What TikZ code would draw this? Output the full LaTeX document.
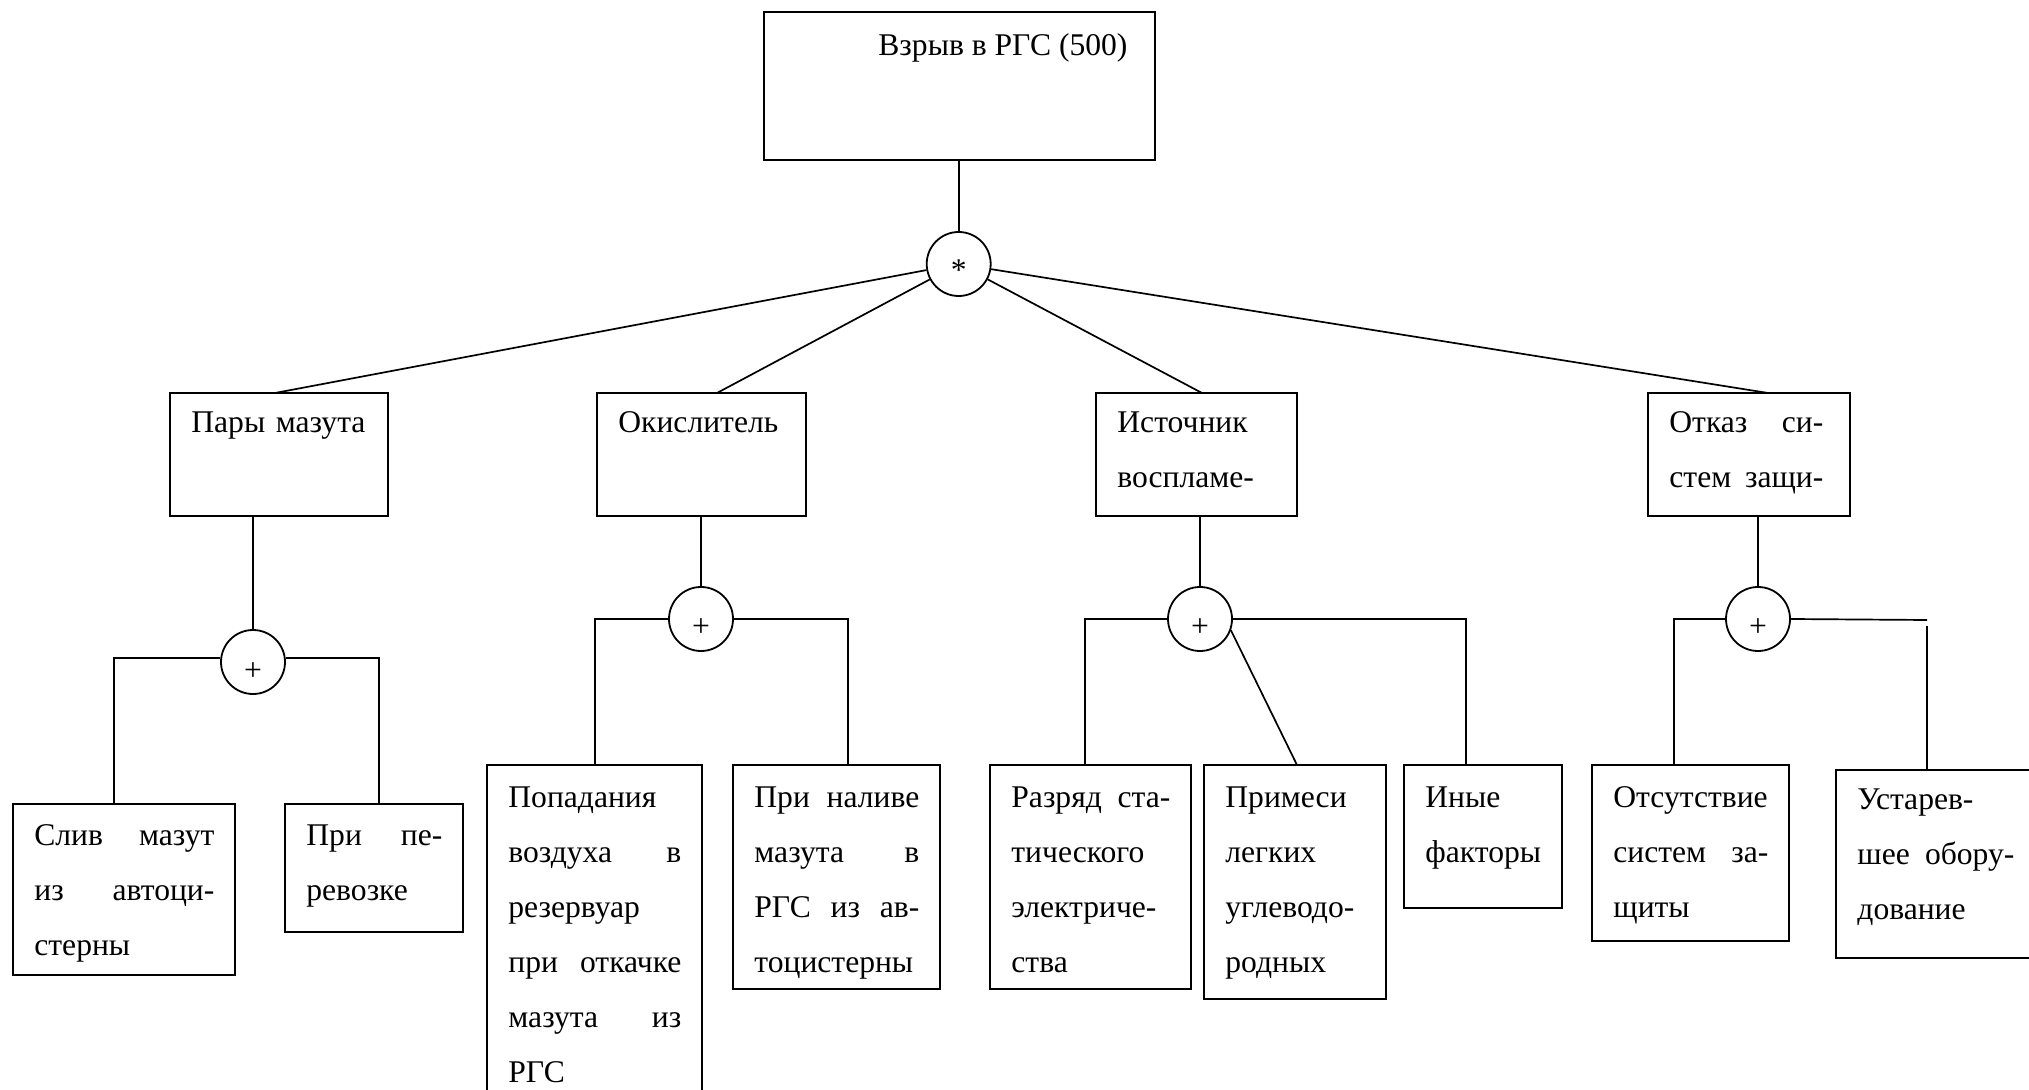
\documentclass[tikz,border=0pt]{standalone}
\usepackage{fontspec}
\setmainfont{Liberation Serif}
\usetikzlibrary{fit}
\begin{document}
\begin{tikzpicture}[x=0.5pt,y=-0.5pt,
  box/.style={draw, line width=0.9pt, inner sep=0pt, fit={#1}},
  txt/.style={anchor=base west, inner sep=0pt, align=left,
    font=\fontsize{15.8}{27.5}\selectfont, text width=#1},
  gate/.style={draw, circle, line width=0.9pt, minimum size=32pt, inner sep=0pt,
    font=\fontsize{15.8}{16}\selectfont},
  con/.style={line width=0.85pt}]
\clip (0,0) rectangle (2029,1090);

% top event
\node[box={(764,12)(1155,160)}] (top) {};
\node[anchor=base west, inner sep=0pt, font=\fontsize{15.8}{27.5}\selectfont] (toptxt) at (878,56) {Взрыв в РГС (500)};
\node[gate] (g0) at (958.7,264) {\raisebox{-8.5pt}[0pt][0pt]{*}};
\draw[con] (top.south -| g0) -- (g0.north);

% level 2
\node[box={(170,393)(388,516)}] (pm) {};
\node[txt=88pt] (pmtxt) at (191,433) {Пары мазута};
\node[box={(597,393)(806,516)}] (ok) {};
\node[txt=84pt] (oktxt) at (618,433) {Окислитель};
\node[box={(1096,393)(1297,516)}] (ist) {};
\node[txt=80pt] (isttxt) at (1117,433) {Источник\\воспламе-};
\node[box={(1648,393)(1850,516)}] (otk) {};
\node[txt=77pt] (otktxt) at (1669,433) {Отказ\hfill си-\\стем\hfill защи-};

\coordinate (pmT) at (275,393);
\coordinate (okT) at (717,393);
\coordinate (istT) at (1202,393);
\coordinate (otkT) at (1768,393);
\draw[con] (g0) -- (pmT);
\draw[con] (g0) -- (okT);
\draw[con] (g0) -- (istT);
\draw[con] (g0) -- (otkT);

% OR gates
\node[gate] (g1) at (253,662) {\raisebox{-9pt}[0pt][0pt]{+}};
\node[gate] (g2) at (701,619) {\raisebox{-9pt}[0pt][0pt]{+}};
\node[gate] (g3) at (1200,619) {\raisebox{-9pt}[0pt][0pt]{+}};
\node[gate] (g4) at (1758,619) {\raisebox{-9pt}[0pt][0pt]{+}};
\draw[con] (pm.south -| g1) -- (g1.north);
\draw[con] (ok.south -| g2) -- (g2.north);
\draw[con] (ist.south -| g3) -- (g3.north);
\draw[con] (otk.south -| g4) -- (g4.north);

% level 3 boxes
\node[box={(13,804)(235,975)}] (sl) {};
\node[txt=90pt] (sltxt) at (34,845) {Слив\hfill мазут\\из\hfill автоци-\\стерны};
\node[box={(285,804)(463,932)}] (pp) {};
\node[txt=68pt] (pptxt) at (306,845) {При\hfill пе-\\ревозке};
\node[box={(487,765)(702,1120)}] (pop) {};
\node[txt=86.5pt] (poptxt) at (508,807) {Попадания\\воздуха\hfill в\\резервуар\\при\hfill откачке\\мазута\hfill из\\РГС};
\node[box={(733,765)(940,989)}] (nal) {};
\node[txt=82.5pt] (naltxt) at (754,807) {При\hfill наливе\\мазута\hfill в\\РГС\hfill из\hfill ав-\\тоцистерны};
\node[box={(990,765)(1191,989)}] (raz) {};
\node[txt=79.5pt] (raztxt) at (1011,807) {Разряд\hfill ста-\\тического\\электриче-\\ства};
\node[box={(1204,765)(1386,999)}] (prim) {};
\node[txt=70pt] (primtxt) at (1225,807) {Примеси\\легких\\углеводо-\\родных};
\node[box={(1404,765)(1562,908)}] (inye) {};
\node[txt=58pt] (inyetxt) at (1425,807) {Иные\\факторы};
\node[box={(1592,765)(1789,941)}] (ots) {};
\node[txt=77.5pt] (otstxt) at (1613,807) {Отсутствие\\систем\hfill за-\\щиты};
\node[box={(1836,770)(2100,958)}] (ust) {};
\node[txt=78.5pt] (usttxt) at (1857,809) {Устарев-\\шее\hfill обору-\\дование};

% attach points
\coordinate (slT) at (114,804);
\coordinate (ppT) at (379,804);
\coordinate (popT) at (595,765);
\coordinate (nalT) at (848,765);
\coordinate (razT) at (1085,765);
\coordinate (primT) at (1297,765);
\coordinate (inyeT) at (1466,765);
\coordinate (otsT) at (1674,765);
\coordinate (g4R) at (1927,620);
\coordinate (ustU) at (1927,626);
\coordinate (ustT) at (1927,770);

% OR gate connectors
\draw[con] (g1.173) -| (slT);
\draw[con] (g1.7) -| (ppT);
\draw[con] (g2.west) -| (popT);
\draw[con] (g2.east) -| (nalT);
\draw[con] (g3.west) -| (razT);
\draw[con] (g3.east) -| (inyeT);
\draw[con] (g3.-20) -- (primT);
\draw[con] (g4.west) -| (otsT);
\draw[con] (g4.east) -- (g4R);
\draw[con] (ustU) -- (ustT);
\end{tikzpicture}
\end{document}
